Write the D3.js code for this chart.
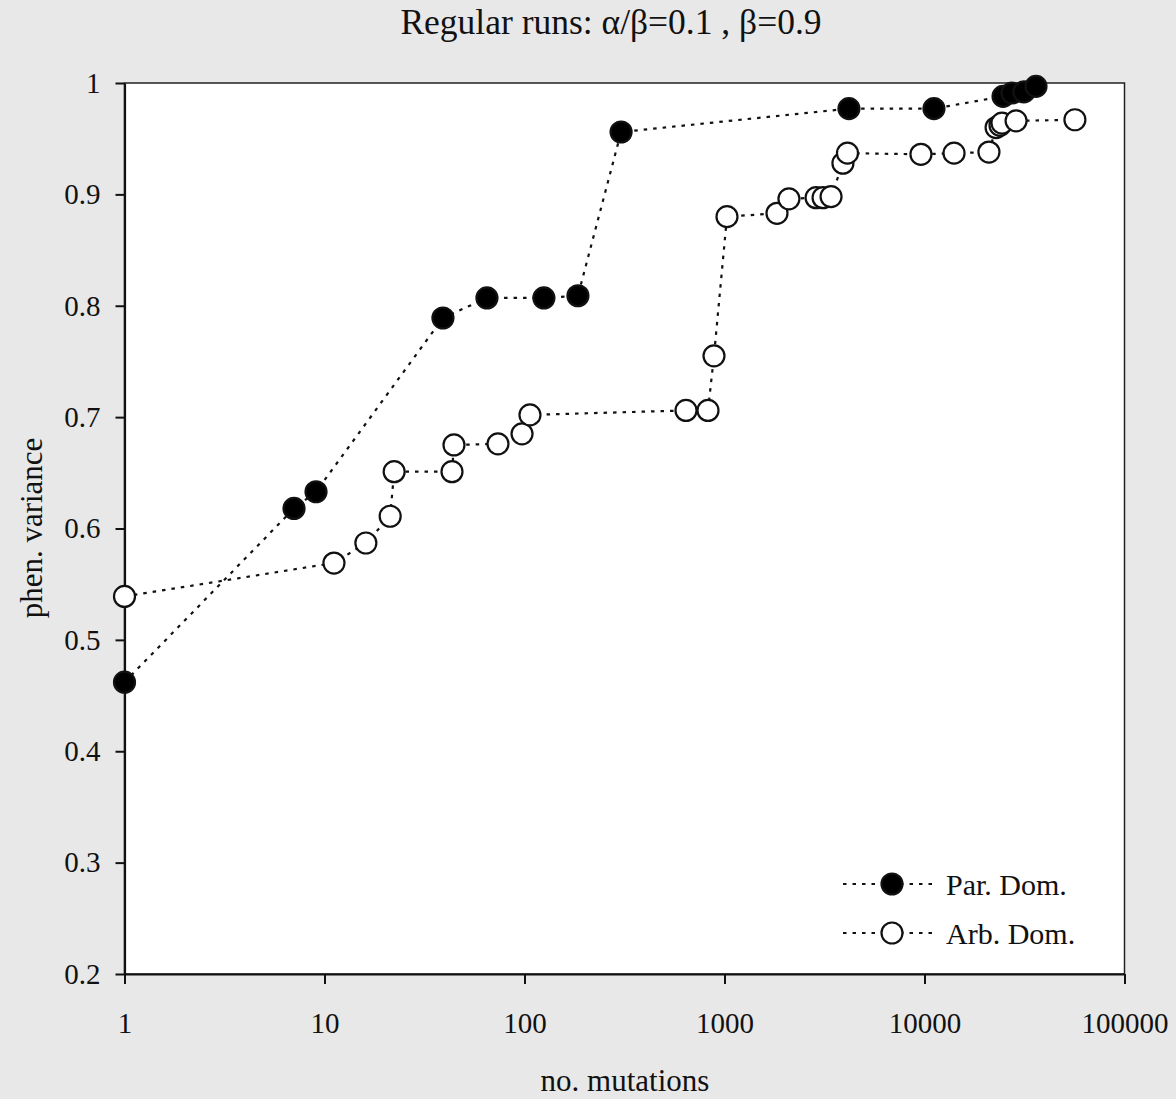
<!DOCTYPE html>
<html>
<head>
<meta charset="utf-8">
<script src="https://cdn.jsdelivr.net/npm/d3@7"></script>
<style>
  body { margin: 0; background: #e8e8e8; }
  svg text { font-family: "Liberation Serif", "Times New Roman", serif; fill: #111; }
</style>
</head>
<body>
<svg id="chart" width="1176" height="1099"></svg>
<script>
// Par. Dom. (filled)
const parX = [1, 7.04, 9.07, 39.1, 64.9, 125, 185, 304, 4190, 11150, 24700, 27400, 31400, 36100];
const parY = [0.462, 0.618, 0.633, 0.789, 0.807, 0.807, 0.809, 0.956, 0.977, 0.977, 0.988, 0.991, 0.992, 0.997];
// Arb. Dom. (open)
const arbX = [1, 11.15, 16.1, 21.3, 22.3, 43.4, 44.4, 73.7, 97.2, 106.5, 642, 827, 886, 1029, 1830, 2100,
  2870, 3110, 3410, 3910, 4120, 9600, 14050, 21000, 22800, 23850, 24400, 28700, 56500];
const arbY = [0.539, 0.569, 0.587, 0.611, 0.651, 0.651, 0.675, 0.676, 0.685, 0.702, 0.706, 0.706, 0.755, 0.880, 0.883, 0.896,
  0.897, 0.897, 0.898, 0.928, 0.937, 0.936, 0.937, 0.938, 0.960, 0.962, 0.964, 0.966, 0.967];

const xTicks = [1, 10, 100, 1000, 10000, 100000];
const yTicks = [0.2, 0.3, 0.4, 0.5, 0.6, 0.7, 0.8, 0.9, 1];
const seriesNames = ['Par. Dom.', 'Arb. Dom.'];

const svg = d3.select('#chart');
const mLeft = 124.5, mRight = 1124.5, mTop = 83, mBottom = 974;

const x = d3.scaleLog().domain([1, 100000]).range([mLeft, mRight]);
const y = d3.scaleLinear().domain([0.2, 1]).range([mBottom, mTop]);

// plot area
svg.append('rect')
  .attr('x', mLeft).attr('y', mTop)
  .attr('width', mRight - mLeft).attr('height', mBottom - mTop)
  .attr('fill', '#fff').attr('stroke', '#222').attr('stroke-width', 1.5);

const xAxis = svg.append('g')
  .attr('transform', `translate(0,${mBottom})`)
  .call(d3.axisBottom(x).tickValues(xTicks).tickFormat(d => String(d))
    .tickSize(10).tickSizeOuter(0).tickPadding(28));
const yAxis = svg.append('g')
  .attr('transform', `translate(${mLeft},0)`)
  .call(d3.axisLeft(y).tickValues(yTicks).tickFormat(d => String(+d.toFixed(1)))
    .tickSize(9).tickSizeOuter(0).tickPadding(15));

[xAxis, yAxis].forEach(g => {
  g.select('.domain').attr('stroke', '#111').attr('stroke-width', 2.2);
  g.selectAll('.tick line').attr('stroke', '#111').attr('stroke-width', 2);
  g.selectAll('.tick text').attr('font-size', 29)
    .attr('font-family', '"Liberation Serif", serif').attr('fill', '#111');
});

// titles
svg.append('text').attr('x', 611).attr('y', 34).attr('text-anchor', 'middle')
  .attr('font-size', 35.5).text('Regular runs: α/β=0.1 , β=0.9');
svg.append('text').attr('x', 625).attr('y', 1091).attr('text-anchor', 'middle')
  .attr('font-size', 31).text('no. mutations');
svg.append('text').attr('transform', 'translate(42,528) rotate(-90)').attr('text-anchor', 'middle')
  .attr('font-size', 31).text('phen. variance');

const line = d3.line().x(d => x(d[0])).y(d => y(d[1]));
const dash = '3.5,6';

function drawSeries(xs, ys, fill) {
  const pts = xs.map((v, i) => [v, ys[i]]);
  svg.append('path').datum(pts).attr('d', line)
    .attr('fill', 'none').attr('stroke', '#111').attr('stroke-width', 2.2)
    .attr('stroke-dasharray', dash);
  svg.append('g').selectAll('circle').data(pts).join('circle')
    .attr('cx', d => x(d[0])).attr('cy', d => y(d[1])).attr('r', 10.5)
    .attr('fill', fill).attr('stroke', '#111').attr('stroke-width', 2.2);
}
drawSeries(arbX, arbY, '#fff');
drawSeries(parX, parY, '#000');

// legend
const leg = svg.append('g');
seriesNames.forEach((name, i) => {
  const ly = 884 + i * 49;
  leg.append('line').attr('x1', 843).attr('x2', 936).attr('y1', ly).attr('y2', ly)
    .attr('stroke', '#111').attr('stroke-width', 2.2).attr('stroke-dasharray', dash);
  leg.append('circle').attr('cx', 892).attr('cy', ly).attr('r', 10.5)
    .attr('fill', i === 0 ? '#000' : '#fff').attr('stroke', '#111').attr('stroke-width', 2.2);
  leg.append('text').attr('x', 946).attr('y', ly + 11).attr('font-size', 30).text(name);
});
</script>
</body>
</html>
